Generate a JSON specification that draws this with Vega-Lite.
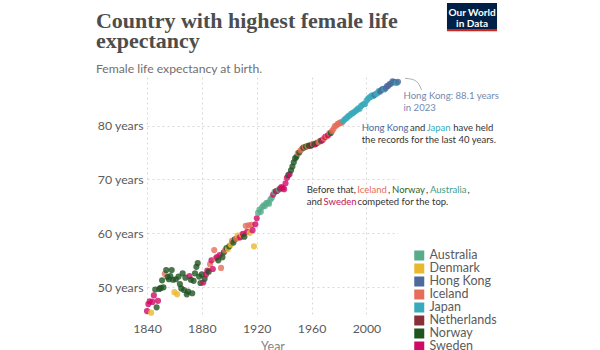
{
  "$schema": "https://vega.github.io/schema/vega-lite/v6.json",
  "autosize": "none",
  "width": 251,
  "height": 240,
  "padding": {"left": 147, "top": 77, "right": 202, "bottom": 33},
  "background": "white",
  "config": {"view": {"stroke": null}, "font": "Lato"},
  "datasets": {
    "records": [
      {"year": 1840, "country": "Sweden", "le": 45.6},
      {"year": 1841, "country": "Sweden", "le": 46.9},
      {"year": 1842, "country": "Sweden", "le": 47.4},
      {"year": 1843, "country": "Denmark", "le": 45.3},
      {"year": 1844, "country": "Sweden", "le": 47.3},
      {"year": 1845, "country": "Sweden", "le": 48.5},
      {"year": 1846, "country": "Norway", "le": 49.6},
      {"year": 1847, "country": "Norway", "le": 46.3},
      {"year": 1848, "country": "Sweden", "le": 47.5},
      {"year": 1849, "country": "Norway", "le": 49.7},
      {"year": 1850, "country": "Norway", "le": 49.9},
      {"year": 1851, "country": "Norway", "le": 51.3},
      {"year": 1852, "country": "Norway", "le": 50.0},
      {"year": 1853, "country": "Iceland", "le": 52.5},
      {"year": 1854, "country": "Norway", "le": 53.2},
      {"year": 1855, "country": "Norway", "le": 51.9},
      {"year": 1856, "country": "Norway", "le": 51.5},
      {"year": 1857, "country": "Norway", "le": 52.1},
      {"year": 1858, "country": "Norway", "le": 53.2},
      {"year": 1859, "country": "Norway", "le": 51.4},
      {"year": 1860, "country": "Denmark", "le": 49.1},
      {"year": 1861, "country": "Norway", "le": 51.5},
      {"year": 1862, "country": "Denmark", "le": 48.7},
      {"year": 1863, "country": "Norway", "le": 52.0},
      {"year": 1864, "country": "Norway", "le": 50.6},
      {"year": 1865, "country": "Norway", "le": 49.8},
      {"year": 1866, "country": "Norway", "le": 52.6},
      {"year": 1867, "country": "Norway", "le": 49.5},
      {"year": 1868, "country": "Norway", "le": 51.8},
      {"year": 1869, "country": "Norway", "le": 48.7},
      {"year": 1870, "country": "Norway", "le": 49.2},
      {"year": 1871, "country": "Sweden", "le": 52.1},
      {"year": 1872, "country": "Norway", "le": 51.4},
      {"year": 1873, "country": "Norway", "le": 48.9},
      {"year": 1874, "country": "Norway", "le": 51.2},
      {"year": 1875, "country": "Norway", "le": 52.6},
      {"year": 1876, "country": "Norway", "le": 53.8},
      {"year": 1877, "country": "Norway", "le": 54.5},
      {"year": 1878, "country": "Norway", "le": 52.0},
      {"year": 1879, "country": "Norway", "le": 50.8},
      {"year": 1880, "country": "Norway", "le": 52.4},
      {"year": 1881, "country": "Sweden", "le": 50.9},
      {"year": 1882, "country": "Norway", "le": 51.6},
      {"year": 1883, "country": "Sweden", "le": 52.4},
      {"year": 1884, "country": "Sweden", "le": 53.1},
      {"year": 1885, "country": "Norway", "le": 52.9},
      {"year": 1886, "country": "Iceland", "le": 54.3},
      {"year": 1887, "country": "Sweden", "le": 55.0},
      {"year": 1888, "country": "Sweden", "le": 53.4},
      {"year": 1889, "country": "Iceland", "le": 56.9},
      {"year": 1890, "country": "Iceland", "le": 55.4},
      {"year": 1891, "country": "Sweden", "le": 55.6},
      {"year": 1892, "country": "Norway", "le": 55.0},
      {"year": 1893, "country": "Sweden", "le": 56.0},
      {"year": 1894, "country": "Iceland", "le": 53.6},
      {"year": 1895, "country": "Norway", "le": 55.6},
      {"year": 1896, "country": "Norway", "le": 56.5},
      {"year": 1897, "country": "Iceland", "le": 56.9},
      {"year": 1898, "country": "Norway", "le": 57.3},
      {"year": 1899, "country": "Denmark", "le": 57.1},
      {"year": 1900, "country": "Norway", "le": 57.6},
      {"year": 1901, "country": "Denmark", "le": 57.9},
      {"year": 1902, "country": "Iceland", "le": 58.6},
      {"year": 1903, "country": "Norway", "le": 58.3},
      {"year": 1904, "country": "Norway", "le": 58.9},
      {"year": 1905, "country": "Iceland", "le": 59.0},
      {"year": 1906, "country": "Denmark", "le": 59.6},
      {"year": 1907, "country": "Iceland", "le": 59.2},
      {"year": 1908, "country": "Sweden", "le": 59.3},
      {"year": 1909, "country": "Denmark", "le": 59.8},
      {"year": 1910, "country": "Sweden", "le": 59.9},
      {"year": 1911, "country": "Norway", "le": 59.4},
      {"year": 1912, "country": "Iceland", "le": 61.4},
      {"year": 1913, "country": "Sweden", "le": 60.3},
      {"year": 1914, "country": "Iceland", "le": 61.5},
      {"year": 1915, "country": "Denmark", "le": 60.1},
      {"year": 1916, "country": "Iceland", "le": 61.6},
      {"year": 1917, "country": "Sweden", "le": 60.6},
      {"year": 1918, "country": "Denmark", "le": 57.6},
      {"year": 1919, "country": "Sweden", "le": 61.7},
      {"year": 1920, "country": "Sweden", "le": 62.8},
      {"year": 1921, "country": "Australia", "le": 63.8},
      {"year": 1922, "country": "Australia", "le": 64.4},
      {"year": 1923, "country": "Australia", "le": 64.0},
      {"year": 1924, "country": "Australia", "le": 64.9},
      {"year": 1925, "country": "Australia", "le": 65.2},
      {"year": 1926, "country": "Australia", "le": 65.1},
      {"year": 1927, "country": "Australia", "le": 65.6},
      {"year": 1928, "country": "Australia", "le": 65.7},
      {"year": 1929, "country": "Australia", "le": 65.5},
      {"year": 1930, "country": "Australia", "le": 66.3},
      {"year": 1931, "country": "Australia", "le": 66.6},
      {"year": 1932, "country": "Sweden", "le": 67.2},
      {"year": 1933, "country": "Australia", "le": 67.7},
      {"year": 1934, "country": "Netherlands", "le": 67.8},
      {"year": 1935, "country": "Sweden", "le": 67.9},
      {"year": 1936, "country": "Australia", "le": 68.1},
      {"year": 1937, "country": "Netherlands", "le": 68.3},
      {"year": 1938, "country": "Sweden", "le": 68.6},
      {"year": 1939, "country": "Sweden", "le": 68.4},
      {"year": 1940, "country": "Sweden", "le": 68.2},
      {"year": 1941, "country": "Sweden", "le": 69.3},
      {"year": 1942, "country": "Sweden", "le": 70.3},
      {"year": 1943, "country": "Norway", "le": 70.8},
      {"year": 1944, "country": "Sweden", "le": 71.0},
      {"year": 1945, "country": "Norway", "le": 71.7},
      {"year": 1946, "country": "Norway", "le": 72.4},
      {"year": 1947, "country": "Norway", "le": 73.2},
      {"year": 1948, "country": "Norway", "le": 73.9},
      {"year": 1949, "country": "Norway", "le": 74.2},
      {"year": 1950, "country": "Iceland", "le": 74.9},
      {"year": 1951, "country": "Norway", "le": 75.0},
      {"year": 1952, "country": "Iceland", "le": 75.4},
      {"year": 1953, "country": "Iceland", "le": 75.7},
      {"year": 1954, "country": "Norway", "le": 75.9},
      {"year": 1955, "country": "Iceland", "le": 76.0},
      {"year": 1956, "country": "Norway", "le": 76.1},
      {"year": 1957, "country": "Iceland", "le": 76.2},
      {"year": 1958, "country": "Norway", "le": 76.3},
      {"year": 1959, "country": "Netherlands", "le": 76.2},
      {"year": 1960, "country": "Norway", "le": 76.4},
      {"year": 1961, "country": "Iceland", "le": 76.6},
      {"year": 1962, "country": "Norway", "le": 76.5},
      {"year": 1963, "country": "Sweden", "le": 76.6},
      {"year": 1964, "country": "Norway", "le": 76.8},
      {"year": 1965, "country": "Iceland", "le": 76.9},
      {"year": 1966, "country": "Iceland", "le": 77.1},
      {"year": 1967, "country": "Norway", "le": 77.2},
      {"year": 1968, "country": "Sweden", "le": 77.3},
      {"year": 1969, "country": "Iceland", "le": 77.6},
      {"year": 1970, "country": "Sweden", "le": 77.9},
      {"year": 1971, "country": "Iceland", "le": 78.0},
      {"year": 1972, "country": "Sweden", "le": 78.2},
      {"year": 1973, "country": "Iceland", "le": 78.6},
      {"year": 1974, "country": "Norway", "le": 78.6},
      {"year": 1975, "country": "Iceland", "le": 79.0},
      {"year": 1976, "country": "Iceland", "le": 79.4},
      {"year": 1977, "country": "Iceland", "le": 79.9},
      {"year": 1978, "country": "Iceland", "le": 80.0},
      {"year": 1979, "country": "Iceland", "le": 80.3},
      {"year": 1980, "country": "Iceland", "le": 80.4},
      {"year": 1981, "country": "Iceland", "le": 80.6},
      {"year": 1982, "country": "Iceland", "le": 80.5},
      {"year": 1983, "country": "Japan", "le": 80.8},
      {"year": 1984, "country": "Japan", "le": 81.1},
      {"year": 1985, "country": "Japan", "le": 81.3},
      {"year": 1986, "country": "Japan", "le": 81.5},
      {"year": 1987, "country": "Japan", "le": 81.8},
      {"year": 1988, "country": "Japan", "le": 81.9},
      {"year": 1989, "country": "Japan", "le": 82.2},
      {"year": 1990, "country": "Japan", "le": 82.3},
      {"year": 1991, "country": "Japan", "le": 82.5},
      {"year": 1992, "country": "Japan", "le": 82.7},
      {"year": 1993, "country": "Japan", "le": 82.9},
      {"year": 1994, "country": "Japan", "le": 83.2},
      {"year": 1995, "country": "Japan", "le": 83.1},
      {"year": 1996, "country": "Japan", "le": 83.6},
      {"year": 1997, "country": "Japan", "le": 83.8},
      {"year": 1998, "country": "Japan", "le": 84.0},
      {"year": 1999, "country": "Japan", "le": 84.0},
      {"year": 2000, "country": "Japan", "le": 84.6},
      {"year": 2001, "country": "Japan", "le": 84.9},
      {"year": 2002, "country": "Japan", "le": 85.2},
      {"year": 2003, "country": "Japan", "le": 85.3},
      {"year": 2004, "country": "Japan", "le": 85.6},
      {"year": 2005, "country": "Japan", "le": 85.5},
      {"year": 2006, "country": "Hong Kong", "le": 85.7},
      {"year": 2007, "country": "Japan", "le": 85.9},
      {"year": 2008, "country": "Japan", "le": 86.0},
      {"year": 2009, "country": "Japan", "le": 86.4},
      {"year": 2010, "country": "Hong Kong", "le": 86.3},
      {"year": 2011, "country": "Hong Kong", "le": 86.6},
      {"year": 2012, "country": "Hong Kong", "le": 86.8},
      {"year": 2013, "country": "Japan", "le": 86.7},
      {"year": 2014, "country": "Hong Kong", "le": 86.9},
      {"year": 2015, "country": "Hong Kong", "le": 87.3},
      {"year": 2016, "country": "Hong Kong", "le": 87.4},
      {"year": 2017, "country": "Hong Kong", "le": 87.7},
      {"year": 2018, "country": "Hong Kong", "le": 87.8},
      {"year": 2019, "country": "Hong Kong", "le": 88.2},
      {"year": 2020, "country": "Hong Kong", "le": 88.1},
      {"year": 2021, "country": "Hong Kong", "le": 88.0},
      {"year": 2022, "country": "Japan", "le": 87.9},
      {"year": 2023, "country": "Hong Kong", "le": 88.1}
    ],
    "arrow": [
      {"year": 2028.1, "le": 88.75},
      {"year": 2033.5, "le": 88.55},
      {"year": 2037.8, "le": 87.8},
      {"year": 2040.2, "le": 86.6}
    ]
  },
  "layer": [
    {
      "data": {"name": "records"},
      "mark": {"type": "circle", "size": 38, "opacity": 0.8},
      "encoding": {
        "x": {
          "field": "year", "type": "quantitative",
          "scale": {"domain": [1840, 2023], "nice": false, "zero": false},
          "axis": {
            "values": [1840, 1860, 1880, 1900, 1920, 1940, 1960, 1980, 2000, 2020],
            "format": "d",
            "labelExpr": "datum.value % 40 == 0 ? datum.label : ''",
            "labelFlush": false,
            "labelOverlap": false,
            "title": "Year",
            "titleFont": "Lato", "titleFontSize": 12.5, "titleFontWeight": "normal", "titleColor": "#858585",
            "titlePadding": 6,
            "labelFont": "Lato", "labelFontSize": 12.3, "labelColor": "#5b5b5b",
            "labelPadding": 5,
            "domain": false, "ticks": false,
            "grid": true, "gridColor": "#d9d9d9", "gridDash": [2, 3]
          }
        },
        "y": {
          "field": "le", "type": "quantitative",
          "scale": {"domain": [44.5, 89], "nice": false, "zero": false},
          "axis": {
            "values": [50, 60, 70, 80],
            "labelExpr": "datum.value + ' years'",
            "title": null,
            "labelFont": "Lato", "labelFontSize": 12.3, "labelColor": "#5b5b5b",
            "labelPadding": 4,
            "domain": false, "ticks": false,
            "grid": true, "gridColor": "#d9d9d9", "gridDash": [2, 3]
          }
        },
        "color": {
          "field": "country", "type": "nominal",
          "scale": {
            "domain": ["Australia", "Denmark", "Hong Kong", "Iceland", "Japan", "Netherlands", "Norway", "Sweden"],
            "range": ["#58ac8c", "#e8b92f", "#4c6a9c", "#e56e5a", "#38aaba", "#883039", "#1f5421", "#cf0a66"]
          },
          "legend": {
            "orient": "none", "legendX": 266, "legendY": 172,
            "title": null,
            "symbolType": "square", "symbolSize": 100, "symbolOpacity": 1, "symbolStrokeWidth": 0,
            "labelFont": "Lato", "labelFontSize": 12.5, "labelColor": "#5b5b5b",
            "rowPadding": 0, "clipHeight": 12.9, "labelOffset": 4
          }
        }
      }
    },
    {
      "data": {"name": "arrow"},
      "mark": {"type": "line", "interpolate": "monotone", "color": "#9a9a9a", "strokeWidth": 0.8},
      "encoding": {
        "x": {"field": "year", "type": "quantitative"},
        "y": {"field": "le", "type": "quantitative"}
      }
    },
    {
      "data": {"values": [{}]},
      "mark": {"type": "text", "align": "left", "baseline": "alphabetic", "font": "Liberation Serif", "fontSize": 22, "fontWeight": "bold", "color": "#4d4d4d"},
      "encoding": {"x": {"datum": 1802.8}, "y": {"datum": 98.09}, "text": {"value": "Country with highest female life"}}
    },
    {
      "data": {"values": [{}]},
      "mark": {"type": "text", "align": "left", "baseline": "alphabetic", "font": "Liberation Serif", "fontSize": 22, "fontWeight": "bold", "color": "#4d4d4d"},
      "encoding": {"x": {"datum": 1802.8}, "y": {"datum": 94.36}, "text": {"value": "expectancy"}}
    },
    {
      "data": {"values": [{}]},
      "mark": {"type": "text", "align": "left", "baseline": "alphabetic", "font": "Lato", "fontSize": 12.2, "color": "#707070"},
      "encoding": {"x": {"datum": 1802.8}, "y": {"datum": 89.74}, "text": {"value": "Female life expectancy at birth."}}
    },
    {
      "data": {"values": [{}]},
      "mark": {"type": "text", "align": "left", "baseline": "middle", "font": "Lato", "fontSize": 9.6, "color": "#7589ad"},
      "encoding": {"x": {"datum": 2027.0}, "y": {"datum": 85.48}, "text": {"value": "Hong Kong: 88.1 years"}}
    },
    {
      "data": {"values": [{}]},
      "mark": {"type": "text", "align": "left", "baseline": "middle", "font": "Lato", "fontSize": 9.6, "color": "#7589ad"},
      "encoding": {"x": {"datum": 2027.0}, "y": {"datum": 83.2}, "text": {"value": "in 2023"}}
    },
    {
      "data": {"values": [{}]},
      "mark": {"type": "text", "align": "left", "baseline": "middle", "font": "Lato", "fontSize": 9.5, "color": "#4c6a9c"},
      "encoding": {"x": {"datum": 1996.53}, "y": {"datum": 79.54}, "text": {"value": "Hong Kong"}}
    },
    {
      "data": {"values": [{}]},
      "mark": {"type": "text", "align": "left", "baseline": "middle", "font": "Lato", "fontSize": 9.5, "color": "#333333"},
      "encoding": {"x": {"datum": 2031.75}, "y": {"datum": 79.54}, "text": {"value": "and"}}
    },
    {
      "data": {"values": [{}]},
      "mark": {"type": "text", "align": "left", "baseline": "middle", "font": "Lato", "fontSize": 9.5, "color": "#38aaba"},
      "encoding": {"x": {"datum": 2043.93}, "y": {"datum": 79.54}, "text": {"value": "Japan"}}
    },
    {
      "data": {"values": [{}]},
      "mark": {"type": "text", "align": "left", "baseline": "middle", "font": "Lato", "fontSize": 9.5, "color": "#333333"},
      "encoding": {"x": {"datum": 2063.32}, "y": {"datum": 79.54}, "text": {"value": "have held"}}
    },
    {
      "data": {"values": [{}]},
      "mark": {"type": "text", "align": "left", "baseline": "middle", "font": "Lato", "fontSize": 9.5, "color": "#333333"},
      "encoding": {"x": {"datum": 1996.53}, "y": {"datum": 77.23}, "text": {"value": "the records for the last 40 years."}}
    },
    {
      "data": {"values": [{}]},
      "mark": {"type": "text", "align": "left", "baseline": "middle", "font": "Lato", "fontSize": 9.5, "color": "#333333"},
      "encoding": {"x": {"datum": 1956.43}, "y": {"datum": 68.05}, "text": {"value": "Before that,"}}
    },
    {
      "data": {"values": [{}]},
      "mark": {"type": "text", "align": "left", "baseline": "middle", "font": "Lato", "fontSize": 9.5, "color": "#e56e5a"},
      "encoding": {"x": {"datum": 1993.33}, "y": {"datum": 68.05}, "text": {"value": "Iceland"}}
    },
    {
      "data": {"values": [{}]},
      "mark": {"type": "text", "align": "left", "baseline": "middle", "font": "Lato", "fontSize": 9.5, "color": "#333333"},
      "encoding": {"x": {"datum": 2015.71}, "y": {"datum": 68.05}, "text": {"value": ","}}
    },
    {
      "data": {"values": [{}]},
      "mark": {"type": "text", "align": "left", "baseline": "middle", "font": "Lato", "fontSize": 9.5, "color": "#2e5f2e"},
      "encoding": {"x": {"datum": 2018.7}, "y": {"datum": 68.05}, "text": {"value": "Norway"}}
    },
    {
      "data": {"values": [{}]},
      "mark": {"type": "text", "align": "left", "baseline": "middle", "font": "Lato", "fontSize": 9.5, "color": "#333333"},
      "encoding": {"x": {"datum": 2043.34}, "y": {"datum": 68.05}, "text": {"value": ","}}
    },
    {
      "data": {"values": [{}]},
      "mark": {"type": "text", "align": "left", "baseline": "middle", "font": "Lato", "fontSize": 9.5, "color": "#3f9c84"},
      "encoding": {"x": {"datum": 2046.33}, "y": {"datum": 68.05}, "text": {"value": "Australia"}}
    },
    {
      "data": {"values": [{}]},
      "mark": {"type": "text", "align": "left", "baseline": "middle", "font": "Lato", "fontSize": 9.5, "color": "#333333"},
      "encoding": {"x": {"datum": 2073.67}, "y": {"datum": 68.05}, "text": {"value": ","}}
    },
    {
      "data": {"values": [{}]},
      "mark": {"type": "text", "align": "left", "baseline": "middle", "font": "Lato", "fontSize": 9.5, "color": "#333333"},
      "encoding": {"x": {"datum": 1956.43}, "y": {"datum": 65.88}, "text": {"value": "and"}}
    },
    {
      "data": {"values": [{}]},
      "mark": {"type": "text", "align": "left", "baseline": "middle", "font": "Lato", "fontSize": 9.5, "color": "#c4135b"},
      "encoding": {"x": {"datum": 1968.68}, "y": {"datum": 65.88}, "text": {"value": "Sweden"}}
    },
    {
      "data": {"values": [{}]},
      "mark": {"type": "text", "align": "left", "baseline": "middle", "font": "Lato", "fontSize": 9.5, "color": "#333333"},
      "encoding": {"x": {"datum": 1993.47}, "y": {"datum": 65.88}, "text": {"value": "competed for the top."}}
    },
    {
      "data": {"values": [{}]},
      "mark": {"type": "rect", "color": "#002147"},
      "encoding": {"x": {"datum": 2058.7}, "x2": {"datum": 2095.2}, "y": {"datum": 102.7}, "y2": {"datum": 97.9}}
    },
    {
      "data": {"values": [{}]},
      "mark": {"type": "rect", "color": "#ce261e"},
      "encoding": {"x": {"datum": 2058.7}, "x2": {"datum": 2095.2}, "y": {"datum": 97.9}, "y2": {"datum": 97.5}}
    },
    {
      "data": {"values": [{}]},
      "mark": {"type": "text", "align": "center", "baseline": "middle", "font": "Lato", "fontSize": 10, "fontWeight": "bold", "color": "white"},
      "encoding": {"x": {"datum": 2077}, "y": {"datum": 100.9}, "text": {"value": "Our World"}}
    },
    {
      "data": {"values": [{}]},
      "mark": {"type": "text", "align": "center", "baseline": "middle", "font": "Lato", "fontSize": 10, "fontWeight": "bold", "color": "white"},
      "encoding": {"x": {"datum": 2077}, "y": {"datum": 98.85}, "text": {"value": "in Data"}}
    }
  ]
}
